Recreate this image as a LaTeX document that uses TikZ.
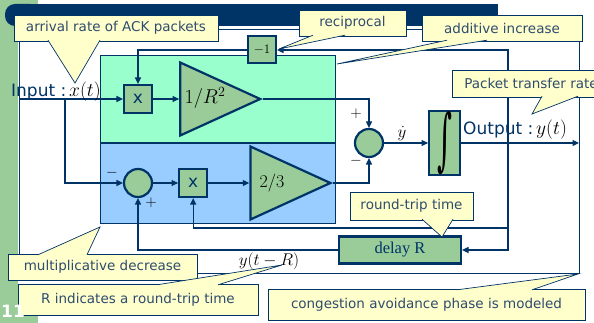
\RequirePackage{fix-cm}
\documentclass[tikz,border=0pt]{standalone}
\usepackage{fontspec}
\setsansfont{DejaVu Sans}
\newfontfamily\timesfont{Liberation Serif}
\newfontfamily\intfont{DejaVu Serif}
\usetikzlibrary{positioning,shapes.geometric,arrows.meta}
\definecolor{navy}{HTML}{003366}
\definecolor{slidegreen}{HTML}{99CC99}
\definecolor{boxgreen}{HTML}{99CC99}
\definecolor{mint}{HTML}{99FFCC}
\definecolor{skyblue}{HTML}{99CCFF}
\definecolor{notefill}{HTML}{FFFFCC}
\definecolor{notetext}{HTML}{2F4B6E}
\tikzstyle{block} = [rectangle, draw=navy, fill=boxgreen,
                    line width=2.2pt, inner sep=0pt]
\tikzstyle{mult} = [block, minimum width=28pt, minimum height=28pt,
                   text=navy, font=\sffamily\fontsize{17}{17}\selectfont]
\tikzstyle{sum} = [circle, draw=navy, fill=boxgreen,
                  line width=2.2pt, minimum size=28pt, inner sep=0pt]
\tikzstyle{gain} = [isosceles triangle, isosceles triangle stretches,
                   draw=navy, fill=boxgreen, line width=2.2pt,
                   minimum width=73pt, minimum height=80pt, inner sep=0pt]
\tikzstyle{region} = [rectangle, draw=navy, line width=0.8pt,
                     minimum width=235pt, inner sep=0pt]
\tikzstyle{note} = [rectangle, draw=navy, line width=0.7pt, fill=notefill,
                   text=notetext, inner sep=0pt,
                   font=\sffamily\fontsize{13.5}{14}\selectfont]
\tikzstyle{wire} = [draw=navy, line width=1.2pt]
\tikzstyle{flow} = [wire, -{Triangle[length=6.5pt,width=6pt]}]
\tikzstyle{sign} = [inner sep=0pt, font=\fontsize{15}{15}\selectfont]
\newcommand{\pointer}[3]{%
  \fill[notefill] #1 -- #2 -- #3 -- cycle;
  \draw[navy, line width=0.7pt] #1 -- #2 -- #3;}

\begin{document}
\begin{tikzpicture}[x=1pt, y=-1pt]
    \useasboundingbox (0,0) rectangle (594,323);
    % slide background
    \fill[white] (0,0) rectangle (594,323);
    \fill[slidegreen] (0,0) rectangle (18,323);
    \fill[slidegreen] (0,0) rectangle (38,4);
    \fill[slidegreen] (0,314) rectangle (38,323);
    \fill[navy, rounded corners=10pt] (5,4) rectangle (40,26);
    \fill[navy] (20,4) rectangle (498,26);
    \draw[navy, line width=0.8pt] (19,29) rectangle (579,273);

    % two loops
    \node (upper) [region, fill=mint, minimum height=87pt, anchor=north west] at (100,55) {};
    \node (lower) [region, fill=skyblue, minimum height=80pt, below=0pt of upper] {};

    \node (mulA) [mult] at (138,99) {x};
    \node (gainA) [gain, right=26pt of mulA] {};
    \node (gainAtxt) [font=\fontsize{20}{20}\selectfont] at (205,98) {$1\big/R^{2}$};
    \node (negone) [block, minimum width=28pt, minimum height=27pt, line width=2pt,
                    font=\fontsize{13}{13}\selectfont] at (262,50) {$-1$};
    \node (sumA) [sum] at (138,183) {};
    \node (mulB) [mult, right=25pt of sumA] {x};
    \node (gainB) [gain, right=41pt of mulB] {};
    \node (gainBtxt) [font=\fontsize{18}{18}\selectfont] at (272,183) {$2/3$};
    \node (sumB) [sum] at (369,143) {};
    \node (integ) [block, minimum width=31pt, minimum height=63pt, right=44pt of sumB]
                  {\resizebox{15pt}{51pt}{\intfont ∫}};
    \node (delay) [block, minimum width=122pt, minimum height=27pt, text=navy,
                   font=\timesfont\fontsize{16.5}{17}\selectfont] at (400,250) {delay R};

    \coordinate (in) at (19,99);
    \coordinate (fork) at (65,99);
    \coordinate (tap) at (508,143);
    \coordinate (out) at (579,143);
    \coordinate (ybend) at (mulB |- 0,228);

    \draw[flow] (in) -- (mulA);
    \draw[flow] (fork) |- (sumA);
    \draw[flow] (mulA) -- (gainA);
    \draw[flow] (gainA.apex) -| (sumB);
    \draw[flow] (gainB.apex) -| (sumB);
    \draw[flow] (sumB) -- (integ);
    \draw[flow] (integ) -- (out);
    \draw[flow] (tap) |- (negone);
    \draw[flow] (negone) -| (mulA);
    \draw[flow] (tap) |- (delay);
    \draw[flow] (delay) -| (sumA);
    \draw[flow] (tap) |- (ybend) -- (mulB);
    \draw[flow] (sumA) -- (mulB);
    \draw[flow] (mulB) -- (gainB);

    % signals and signs
    \node (inlabel) [anchor=base west, inner sep=0pt, text=navy,
                     font=\sffamily\fontsize{17}{17}\selectfont] at (11,97)
                    {Input :\,\textcolor{black}{\fontsize{19.5}{19.5}\selectfont$x(t)$}};
    \node (outlabel) [anchor=base west, inner sep=0pt, text=navy,
                      font=\sffamily\fontsize{17}{17}\selectfont] at (463,135)
                     {Output :\,\textcolor{black}{\fontsize{19.5}{19.5}\selectfont$y(t)$}};
    \node (ydot) [inner sep=0pt, font=\fontsize{17}{17}\selectfont] at (402,134) {$\dot y$};
    \node (delaylabel) [font=\fontsize{17}{17}\selectfont] at (269,261) {$y(t-R)$};
    \node (plusB) [sign] at (356,114) {$+$};
    \node (minusB) [sign] at (356,161) {$-$};
    \node (minusA) [sign] at (112,173) {$-$};
    \node (plusA) [sign] at (151,203) {$+$};

    % callouts
    \node (cArrival) [note, minimum width=204pt, minimum height=26pt] at (116,28) {arrival rate of ACK packets};
    \pointer{(48,40.2)}{(75,83)}{(100,40.2)}
    \node (cRecip) [note, minimum width=107pt, minimum height=26pt] at (352.5,23) {reciprocal};
    \pointer{(313,35.2)}{(279,49)}{(345,35.2)}
    \node (cAdditive) [note, minimum width=160pt, minimum height=26pt] at (502,28) {additive increase};
    \pointer{(447,40.2)}{(337,64)}{(487,40.2)}
    \node (cTransfer) [note, minimum width=158pt, minimum height=27pt] at (531,83.5) {Packet transfer rate};
    \pointer{(542,96.2)}{(532,114)}{(578,96.2)}
    \node (cRtt) [note, minimum width=123pt, minimum height=28pt] at (411.5,206) {round-trip time};
    \pointer{(422,219.2)}{(442,237)}{(453,219.2)}
    \node (cMult) [note, minimum width=189pt, minimum height=26pt] at (102.5,267) {multiplicative decrease};
    \pointer{(38,254.8)}{(100,227)}{(87,254.8)}
    \node (cRindic) [note, minimum width=240pt, minimum height=31pt] at (138,299.5) {R indicates a round-trip time};
    \pointer{(157,284.8)}{(282,265)}{(218,284.8)}
    \node (cCongest) [note, minimum width=317pt, minimum height=31pt] at (426.5,304.5) {congestion avoidance phase is modeled};
    \pointer{(457,289.8)}{(578,274)}{(532,289.8)}

    \node (pagenum) [anchor=north west, inner sep=0pt, text=white,
                     font=\sffamily\bfseries\fontsize{17}{17}\selectfont] at (1,305) {11};
\end{tikzpicture}
\end{document}
